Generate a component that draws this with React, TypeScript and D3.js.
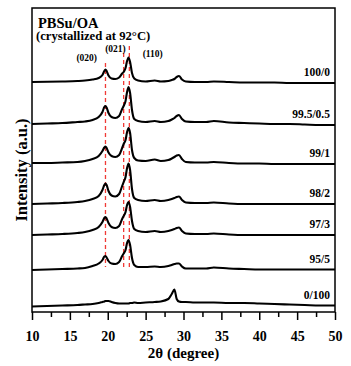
import React, { useEffect, useRef } from "react";
import { select, scaleLinear, axisBottom, line, curveMonotoneX } from "d3";

// 2theta grid shared by all patterns (denser around the peaks)
const twoTheta = [
  10, 12, 14, 16, 17, 18, 18.8, 19.3, 19.55, 19.7, 19.85, 20.1, 20.5, 21.0, 21.5,
  21.9, 22.1, 22.35, 22.55, 22.75, 22.95, 23.2, 23.5, 24.0, 25.0, 26.2, 27.0, 28.0,
  28.45, 28.8, 29.1, 29.4, 29.8, 30.3, 31.5, 33, 34, 36, 38, 40, 42, 44, 46, 48, 50,
];

const samples = ["100/0", "99.5/0.5", "99/1", "98/2", "97/3", "95/5", "0/100"];
// vertical stacking offset of each pattern (a.u.)
const offsets = [229, 187, 148, 108, 77, 42.5, 6.5];

const pbsu100 = [
  1, 1.2, 1.5, 2, 2.5, 3.5, 5, 8, 12, 13.5, 12, 7.5, 4.5, 4, 5.5, 9.5, 11, 15, 22, 25.5, 21,
  10, 4.5, 2.5, 1.5, 2.5, 1.5, 2, 3, 4, 6, 7, 3.5, 1.5, 1, 1, 1.5, 1, 0.5, 0.5, 0.5, 0, 0, 0, 0,
];
const oa05 = [
  1, 1.5, 2, 3, 3.5, 5, 8, 13, 18, 19, 17.5, 12, 8, 7, 9, 16, 19, 24, 33, 38, 32, 15, 6, 4, 3,
  4, 3, 4, 5.5, 7, 9, 10, 6, 3.5, 3, 3, 4, 2.5, 2, 1.5, 1, 1, 0.5, 0, 0,
];
const oa1 = [
  1, 1, 1.5, 2, 3, 5, 8, 13, 16.5, 17.5, 16, 11.5, 8, 7, 9, 16, 20, 24, 32, 36, 31, 14, 6, 3.5,
  3, 4.5, 3, 4, 5.5, 7, 8.5, 9, 5, 2, 1.5, 1.5, 2, 1, 0.5, 0.5, 0, 0, 0, 0, 0,
];
const oa2 = [
  0, 0.5, 1, 2, 3, 5, 8, 14, 19, 20.5, 19, 13, 8.5, 7.5, 10, 18, 22, 27, 36, 40.5, 34, 15, 6, 4,
  3, 4, 3, 4, 5, 6, 7, 7.5, 4, 1.5, 1, 1, 1.5, 0.5, 0, 0, 0, 0, 0, 0, 0,
];
const oa3 = [
  0, 0.5, 1, 2, 3, 5, 8, 13, 17, 18, 16.5, 12, 8, 7, 9, 16, 19, 23, 30, 33, 28, 14, 6, 4, 3, 4,
  3, 4, 5, 6, 7, 7.5, 4, 1.5, 1, 1, 1.5, 0.5, 0, 0, 0, 0, 0, 0, 0,
];
const oa5 = [
  -0.5, 0, 0.5, 1, 1.5, 3.5, 6, 9.5, 13, 13.5, 12, 8.5, 6, 5.5, 7.5, 13.5, 16, 19.5, 26.5, 29.5,
  24.5, 11.5, 4.5, 2.5, 2.5, 3, 2.5, 3.5, 4.5, 5.5, 6, 6, 3, 1, 1, 1, 2, 1, 0.5, 0, 0, 0, 0, 0, 0,
];
const oa100 = [
  -1, -0.5, 0, 0.5, 1, 1.5, 2.5, 3.5, 4, 4.5, 4.5, 4.5, 3.5, 2.5, 2, 2, 2, 2, 2, 2, 2.5, 2.5, 3,
  2.5, 3, 3.5, 4, 6.5, 11.5, 16, 6.5, 4, 3.5, 3.5, 3, 3, 3, 2.5, 2.5, 2, 1.5, 1, 0.5, 0, 0,
];
const patterns = [pbsu100, oa05, oa1, oa2, oa3, oa5, oa100];

const xTicks = [10, 15, 20, 25, 30, 35, 40, 45, 50];
const xMinor = [12.5, 17.5, 22.5, 27.5, 32.5, 37.5, 42.5, 47.5];

// reflections marked by the dashed guides
const planes = ["(020)", "(021)", "(110)"];
const planePos = [19.7, 22.1, 22.85];
const planeTop = [63, 53, 46];

const W = 351;
const H = 366;
const m = { left: 32, right: 335, top: 8, bottom: 312 };
const font = "'Liberation Serif', 'Times New Roman', serif";

const App = () => {
  const axisRef = useRef<SVGGElement>(null);
  const minorRef = useRef<SVGGElement>(null);

  const xScale = scaleLinear().domain([10, 50]).range([m.left, m.right]);
  const yScale = scaleLinear().domain([0, 304]).range([m.bottom, m.top]);

  useEffect(() => {
    const ax = select(axisRef.current);
    ax.call(axisBottom(xScale).tickValues(xTicks).tickSize(8).tickPadding(11));
    ax.select(".domain").remove();
    ax.selectAll("line").attr("stroke", "#000").attr("stroke-width", 1.5);
    ax.selectAll("text")
      .attr("font-family", font)
      .attr("font-weight", "bold")
      .attr("font-size", 14)
      .attr("fill", "#000");

    const mi = select(minorRef.current);
    mi.call(axisBottom(xScale).tickValues(xMinor).tickSize(5).tickFormat(() => ""));
    mi.select(".domain").remove();
    mi.selectAll("line").attr("stroke", "#000").attr("stroke-width", 1.5);
  }, []);

  return (
    <svg
      width={W}
      height={H}
      style={{ position: "absolute", left: 0, top: 0, background: "#fff" }}
      fontFamily={font}
      fontWeight="bold"
    >
      {planePos.map((p, i) => (
        <line
          key={planes[i]}
          x1={xScale(p)}
          x2={xScale(p)}
          y1={planeTop[i]}
          y2={267}
          stroke="#f03a36"
          strokeWidth={1.3}
          strokeDasharray="4,3"
        />
      ))}

      {patterns.map((vals, i) => {
        const path = line<number>()
          .x((_, j) => xScale(twoTheta[j]))
          .y((v) => yScale(offsets[i] + v))
          .curve(curveMonotoneX)(vals);
        return (
          <path key={samples[i]} d={path || ""} fill="none" stroke="#000" strokeWidth={2.1} strokeLinejoin="round" />
        );
      })}

      {samples.map((s, i) => (
        <text key={s} x={330} y={yScale(offsets[i]) - 7} textAnchor="end" fontSize={11.5}>
          {s}
        </text>
      ))}

      <text x={86.7} y={60.5} textAnchor="middle" fontSize={9.5}>{planes[0]}</text>
      <text x={115.5} y={51.5} textAnchor="middle" fontSize={9.5}>{planes[1]}</text>
      <text x={152.7} y={57.3} textAnchor="middle" fontSize={9.5}>{planes[2]}</text>

      <text x={38} y={27.5} fontSize={14.5}>PBSu/OA</text>
      <text x={36} y={40} fontSize={12.7}>(crystallized at 92°C)</text>

      <rect
        x={m.left}
        y={m.top}
        width={m.right - m.left}
        height={m.bottom - m.top}
        fill="none"
        stroke="#000"
        strokeWidth={1.5}
      />
      <g ref={axisRef} transform={`translate(0,${m.bottom})`} />
      <g ref={minorRef} transform={`translate(0,${m.bottom})`} />

      <text x={183.5} y={358} textAnchor="middle" fontSize={15}>2θ (degree)</text>
      <text transform="translate(27,170) rotate(-90)" textAnchor="middle" fontSize={16.5}>
        Intensity (a.u.)
      </text>
    </svg>
  );
};

export default App;
